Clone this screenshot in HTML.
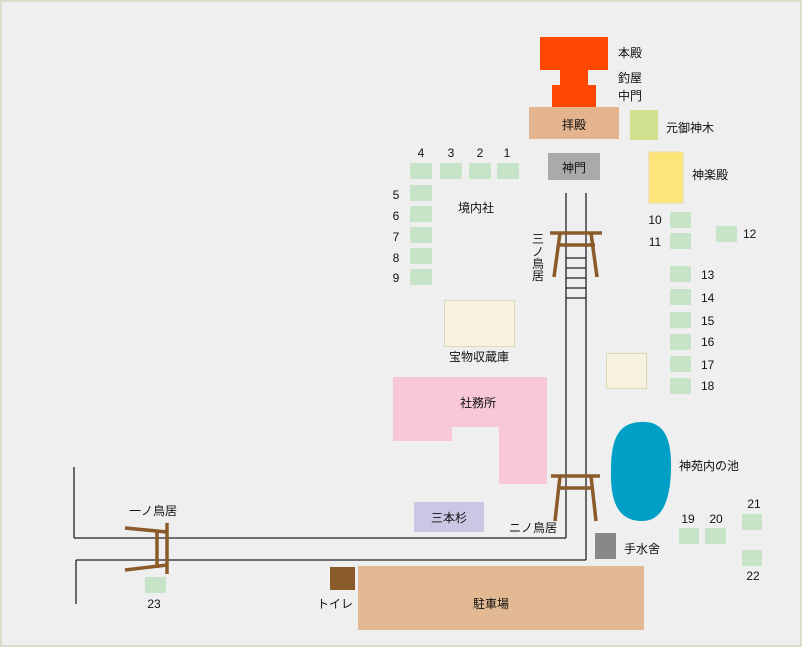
<!DOCTYPE html>
<html><head><meta charset="utf-8"><style>
html,body{margin:0;padding:0;background:#efefef;}
svg{display:block;font-family:"Liberation Sans","Noto Sans CJK JP",sans-serif;font-size:12px;}
</style></head><body>
<svg width="802" height="647" viewBox="0 0 802 647" xmlns="http://www.w3.org/2000/svg">
<rect x="1" y="1" width="800" height="645" fill="#efefef" stroke="#dcdccc" stroke-width="2"/>
<rect x="540" y="37" width="68" height="33" fill="#fe4700"/>
<rect x="560" y="69" width="28" height="17" fill="#fe4700"/>
<rect x="552" y="85" width="44" height="23" fill="#fe4700"/>
<rect x="529" y="107" width="90" height="32" fill="#e3b48e"/>
<rect x="630" y="110" width="28" height="30" fill="#cfe08f"/>
<rect x="548" y="153" width="52" height="27" fill="#aaaaaa"/>
<rect x="649" y="152" width="34" height="51" fill="#fde57a" stroke="#f0d8a0"/>
<g stroke="#222" stroke-width="1.3" fill="none">
<line x1="566" y1="193" x2="566" y2="538"/>
<line x1="586" y1="193" x2="586" y2="560"/>
<line x1="74" y1="538" x2="566" y2="538"/>
<line x1="76" y1="560" x2="586" y2="560"/>
<line x1="74" y1="467" x2="74" y2="538"/>
<line x1="76" y1="560" x2="76" y2="604"/>
<line x1="566" y1="258" x2="586" y2="258"/>
<line x1="566" y1="268" x2="586" y2="268"/>
<line x1="566" y1="278" x2="586" y2="278"/>
<line x1="566" y1="288" x2="586" y2="288"/>
<line x1="566" y1="298" x2="586" y2="298"/>
</g>
<g stroke="#8b5a2b" stroke-width="3.5" fill="none">
<line x1="550" y1="233" x2="602" y2="233"/>
<line x1="557" y1="245" x2="595" y2="245"/>
<line x1="560" y1="233" x2="554" y2="277"/>
<line x1="591" y1="233" x2="597" y2="277"/>
<line x1="551" y1="476" x2="600" y2="476"/>
<line x1="557" y1="488" x2="594" y2="488"/>
<line x1="560" y1="476" x2="555" y2="521"/>
<line x1="591" y1="476" x2="596" y2="521"/>
<line x1="167" y1="523" x2="167" y2="574"/>
<line x1="157" y1="531" x2="157" y2="568"/>
<line x1="125" y1="528" x2="167" y2="532"/>
<line x1="125" y1="570" x2="167" y2="565"/>
</g>
<g fill="#c8e4c8">
<rect x="410" y="163" width="22" height="16"/><rect x="440" y="163" width="22" height="16"/>
<rect x="469" y="163" width="22" height="16"/><rect x="497" y="163" width="22" height="16"/>
<rect x="410" y="185" width="22" height="16"/><rect x="410" y="206" width="22" height="16"/>
<rect x="410" y="227" width="22" height="16"/><rect x="410" y="248" width="22" height="16"/>
<rect x="410" y="269" width="22" height="16"/>
<rect x="670" y="212" width="21" height="16"/><rect x="670" y="233" width="21" height="16"/>
<rect x="716" y="226" width="21" height="16"/>
<rect x="670" y="266" width="21" height="16"/><rect x="670" y="289" width="21" height="16"/>
<rect x="670" y="312" width="21" height="16"/><rect x="670" y="334" width="21" height="16"/>
<rect x="670" y="356" width="21" height="16"/><rect x="670" y="378" width="21" height="16"/>
<rect x="679" y="528" width="20" height="16"/><rect x="705" y="528" width="21" height="16"/>
<rect x="742" y="514" width="20" height="16"/><rect x="742" y="550" width="20" height="16"/>
<rect x="145" y="577" width="21" height="16"/>
</g>
<rect x="444.5" y="300.5" width="70" height="46" fill="#f7f3e0" stroke="#ddd8b8"/>
<rect x="606.5" y="353.5" width="40" height="35" fill="#f7f3e0" stroke="#ddd8b8"/>
<polygon points="393,377 547,377 547,484 499,484 499,427 452,427 452,441 393,441" fill="#f8c8d8"/>
<path d="M640,422 C665,420 672,440 671,470 C670,505 660,521 642,521 C620,521 610,505 611,470 C611,440 618,423 640,422 Z" fill="#00a0c6"/>
<rect x="414" y="502" width="70" height="30" fill="#ccc6e4"/>
<rect x="595" y="533" width="21" height="26" fill="#888"/>
<rect x="330" y="567" width="25" height="23" fill="#8b5a2b"/>
<rect x="358" y="566" width="286" height="64" fill="#e2b992"/>
<g fill="#111">
<text x="618" y="57">本殿</text>
<text x="618" y="82">釣屋</text>
<text x="618" y="100">中門</text>
<text x="574" y="129" text-anchor="middle">拝殿</text>
<text x="666" y="132">元御神木</text>
<text x="574" y="172" text-anchor="middle">神門</text>
<text x="692" y="179">神楽殿</text>
<text x="421" y="157" text-anchor="middle">4</text><text x="451" y="157" text-anchor="middle">3</text>
<text x="480" y="157" text-anchor="middle">2</text><text x="507" y="157" text-anchor="middle">1</text>
<text x="396" y="199" text-anchor="middle">5</text><text x="396" y="220" text-anchor="middle">6</text>
<text x="396" y="241" text-anchor="middle">7</text><text x="396" y="262" text-anchor="middle">8</text>
<text x="396" y="282" text-anchor="middle">9</text>
<text x="476" y="212" text-anchor="middle">境内社</text>
<text x="655" y="224" text-anchor="middle">10</text><text x="655" y="246" text-anchor="middle">11</text>
<text x="743" y="238">12</text>
<text x="701" y="279">13</text><text x="701" y="302">14</text><text x="701" y="325">15</text>
<text x="701" y="346">16</text><text x="701" y="369">17</text><text x="701" y="390">18</text>
<text x="538" y="243" text-anchor="middle">三</text>
<text x="538" y="256" text-anchor="middle">ノ</text>
<text x="538" y="268" text-anchor="middle">鳥</text>
<text x="538" y="280" text-anchor="middle">居</text>
<text x="479" y="361" text-anchor="middle">宝物収蔵庫</text>
<text x="478" y="407" text-anchor="middle">社務所</text>
<text x="679" y="470">神苑内の池</text>
<text x="449" y="522" text-anchor="middle">三本杉</text>
<text x="533" y="532" text-anchor="middle">ニノ鳥居</text>
<text x="153" y="515" text-anchor="middle">一ノ鳥居</text>
<text x="624" y="553">手水舍</text>
<text x="688" y="523" text-anchor="middle">19</text><text x="716" y="523" text-anchor="middle">20</text>
<text x="754" y="508" text-anchor="middle">21</text><text x="753" y="580" text-anchor="middle">22</text>
<text x="154" y="608" text-anchor="middle">23</text>
<text x="335" y="608" text-anchor="middle">トイレ</text>
<text x="491" y="608" text-anchor="middle">駐車場</text>
</g>
</svg>
</body></html>
